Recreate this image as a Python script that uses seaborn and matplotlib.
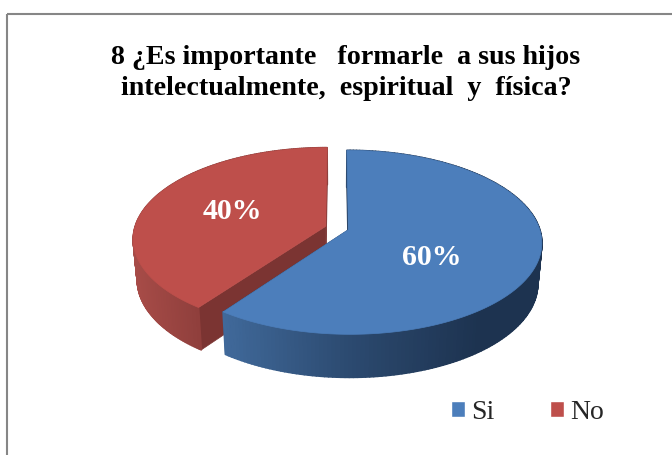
import numpy as np
import seaborn as sns
import matplotlib.pyplot as plt
from matplotlib.collections import PolyCollection
from matplotlib.colors import to_rgb
from matplotlib.patches import Polygon, Rectangle

categories = ['Si', 'No']
percentages = [60, 40]
title = '8 ¿Es importante   formarle  a sus hijos\nintelectualmente,  espiritual  y  física?'

sns.set_theme(style='white')
plt.rcParams['font.family'] = ['Liberation Serif', 'DejaVu Serif']

palette = sns.color_palette(['#4c7ebb', '#be4f4b'])
cut_colors = ['#1d3350', '#7b3432']
# side wall shading, left to right in pixels
side_stops = [
    ([225, 350, 480], ['#40699a', '#2c4a70', '#1d3350']),
    ([133, 200], ['#a84c48', '#8f3f3c']),
]

fig = plt.figure(figsize=(6.72, 4.56), dpi=100)
ax = fig.add_axes([0, 0, 1, 1])

wedges, _, autotexts = ax.pie(percentages, explode=[0.062, 0.062], startangle=90,
                              counterclock=False, colors=palette, autopct='%d%%',
                              textprops={'color': 'white', 'fontweight': 'bold', 'fontsize': 21.5})

# the pie is used in pixel coordinates from here on
ax.set_aspect('auto')
ax.set_xlim(0, 672)
ax.set_ylim(456, 0)
ax.set_axis_off()


# perspective tilt, unit pie to pixels
def project(u, v, bottom=False):
    u, v = np.asarray(u, float), np.asarray(v, float)
    w = 1 + 0.1366 * v
    x = 337 + 191 * u / w
    y = 229 - 89.8 * v / w
    if bottom:
        x = 337 + (x - 337) * 0.98
        y = y + 40 - 3 * v
    return x, y


def shade(x, stops):
    xs, cols = stops
    rgb = np.array([to_rgb(c) for c in cols])
    return np.column_stack([np.interp(x, xs, rgb[:, i]) for i in range(3)])


# red first so the blue slice sits in front of it
for i in [1, 0]:
    w = wedges[i]
    w.remove()
    t = np.radians(np.linspace(w.theta1, w.theta2, 200))
    cu, cv = w.center
    u = cu + w.r * np.cos(t)
    v = cv + w.r * np.sin(t)

    xt, yt = project(u, v)
    xb, yb = project(u, v, bottom=True)
    ax_, ay_ = project(cu, cv)
    bx_, by_ = project(cu, cv, bottom=True)

    # cut faces
    for j in [0, -1]:
        ax.add_patch(Polygon([(ax_, ay_), (xt[j], yt[j]), (xb[j], yb[j]), (bx_, by_)],
                             closed=True, fc=cut_colors[i], ec=cut_colors[i], lw=0.5))

    # curved wall
    quads = [[(xt[k], yt[k]), (xt[k + 1], yt[k + 1]), (xb[k + 1], yb[k + 1]), (xb[k], yb[k])]
             for k in range(len(t) - 1)]
    cols = shade((xt[:-1] + xt[1:]) / 2, side_stops[i])
    ax.add_collection(PolyCollection(quads, facecolors=cols, edgecolors=cols, linewidths=1.2))

    # top face
    ax.add_patch(Polygon(np.vstack([[(ax_, ay_)], np.column_stack([xt, yt])]),
                         closed=True, fc=palette[i], ec=palette[i], lw=0.5))

autotexts[0].set_position((432, 258))
autotexts[1].set_position((232, 212))
for txt in autotexts:
    txt.set_ha('center')
    txt.set_va('center')
    txt.set_zorder(5)

# chart frame, right and bottom sides fall outside the picture
ax.add_patch(Rectangle((7, 15), 700, 480, fc='none', ec='#868686', lw=1.5, zorder=6))

ax.text(346, 73, title, ha='center', va='center', fontsize=20.2, fontweight='bold',
        color='black', linespacing=1.3, zorder=5)

handles = [Rectangle((0, 0), 1, 1, fc=c) for c in palette]
ax.legend(handles, categories, ncol=2, frameon=False, fontsize=20, loc='center',
          bbox_to_anchor=(527.5 / 672, 1 - 413 / 456), handlelength=0.5, handleheight=0.5,
          handletextpad=0.22, columnspacing=1.98)

fig.savefig('out.png', dpi=100)
